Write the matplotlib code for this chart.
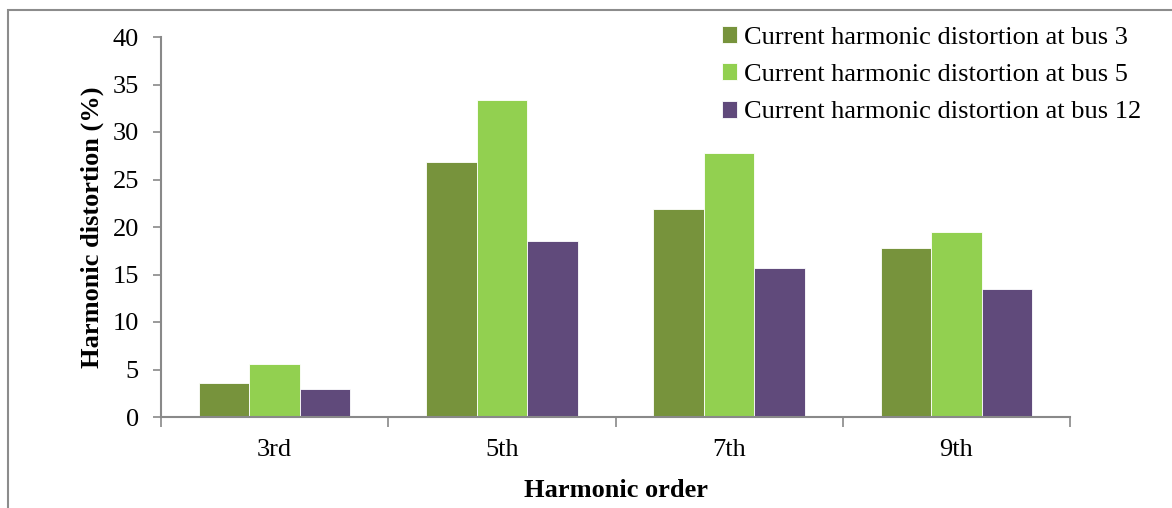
import matplotlib
matplotlib.use("Agg")
import matplotlib.pyplot as plt
import numpy as np
from matplotlib.patches import Rectangle

categories = ["3rd", "5th", "7th", "9th"]
series_names = [
    "Current harmonic distortion at bus 3",
    "Current harmonic distortion at bus 5",
    "Current harmonic distortion at bus 12",
]
bus3 = [3.6, 26.8, 21.9, 17.8]
bus5 = [5.6, 33.4, 27.8, 19.5]
bus12 = [2.9, 18.5, 15.7, 13.5]
colors = ["#77933C", "#92D050", "#604A7B"]
yticks = [0, 5, 10, 15, 20, 25, 30, 35, 40]

plt.rcParams["font.family"] = ["Liberation Serif", "DejaVu Serif"]
axis_gray = "#898989"
fs = 19

fig = plt.figure(figsize=(11.72, 5.08), dpi=100)
ax = fig.add_axes([161 / 1172, 1 - 417 / 508, (1070 - 161) / 1172, (417 - 37) / 508])

x = np.arange(len(categories))
width = 1 / 4.5
for i, (vals, name, c) in enumerate(zip([bus3, bus5, bus12], series_names, colors)):
    ax.bar(x + (i - 1) * width, vals, width=width, color=c, label=name,
           edgecolor="white", linewidth=0.6, zorder=2)

ax.set_xlim(-0.5, len(categories) - 0.5)
ax.set_ylim(0, 40)
ax.set_yticks(yticks)
ax.set_yticklabels([str(t) for t in yticks], fontsize=fs)
ax.tick_params(axis="y", direction="out", length=6, color=axis_gray, width=1.2, pad=10)

# category labels centred, separator ticks at category boundaries
ax.set_xticks(x)
ax.set_xticklabels(categories, fontsize=fs)
ax.tick_params(axis="x", which="major", length=0, pad=16)
ax.set_xticks(np.arange(len(categories) + 1) - 0.5, minor=True)
ax.tick_params(axis="x", which="minor", direction="out", length=7, color=axis_gray, width=1.2)

for s in ["top", "right"]:
    ax.spines[s].set_visible(False)
for s in ["left", "bottom"]:
    ax.spines[s].set_color(axis_gray)
    ax.spines[s].set_linewidth(1.5)

ax.set_ylabel("Harmonic distortion (%)", fontsize=fs, fontweight="bold", labelpad=6)
ax.set_xlabel("Harmonic order", fontsize=fs, fontweight="bold", labelpad=13)

leg = ax.legend(loc="upper left", bbox_to_anchor=(0.605, 1.057), frameon=False,
                fontsize=fs, handlelength=0.6, handleheight=0.6,
                handletextpad=0.25, labelspacing=0.56, borderaxespad=0)

# outer chart frame
fig.patches.append(Rectangle((8 / 1172, -0.1), 1.2, 1 - 10 / 508 + 0.1,
                             transform=fig.transFigure, fill=False,
                             edgecolor="#8c8c8c", linewidth=1.5))

fig.savefig("out.png", dpi=100)
